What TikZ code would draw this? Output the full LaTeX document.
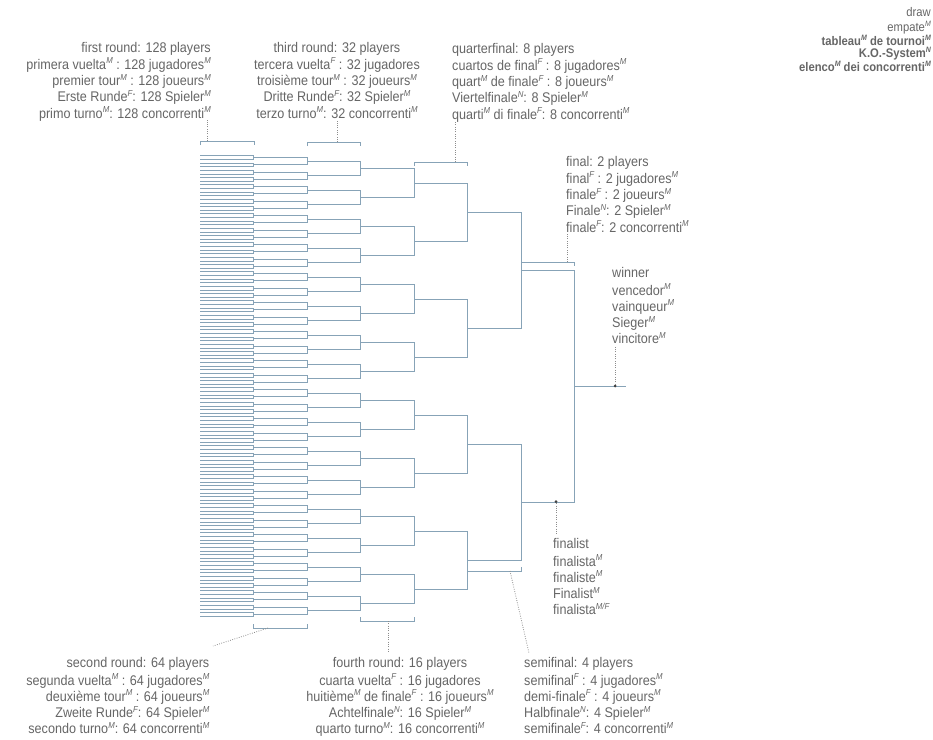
\documentclass[tikz,border=0pt]{standalone}
\usepackage{fontspec}
\usepackage{graphicx}
\setmainfont[FakeStretch=0.9]{Liberation Sans}
\definecolor{bline}{RGB}{135,163,183}
\definecolor{txt}{RGB}{102,102,102}
\definecolor{lead}{RGB}{140,140,140}
\newcommand\gn[1]{\raisebox{0.4em}{\scalebox{0.62}{\itshape #1}}}
\tikzset{
  bl/.style={draw=bline, line width=0.85pt},
  tag/.style={draw=bline, line width=0.7pt},
  leader/.style={draw=lead, line width=0.8pt, dash pattern=on 0.8pt off 1.5pt},
  lbl/.style={inner sep=0pt, text=txt, font=\fontsize{14}{16.2}\selectfont},
  smalllbl/.style={inner sep=0pt, text=txt, font=\fontsize{12.5}{12.6}\selectfont},
  dotc/.style={circle, fill=black!75, inner sep=0pt, minimum size=3pt}
}
\begin{document}
\begin{tikzpicture}[x=1pt,y=-1pt]
\useasboundingbox (0,0) rectangle (933,739);
\fill[white] (0,0) rectangle (933,739);
\def\yz{155.8}
\def\dd{3.625}
% bracket tree
\foreach \k in {1,...,7} {
  \pgfmathtruncatemacro\n{2^(8-\k)}
  \pgfmathtruncatemacro\g{2^(\k-1)}
  \pgfmathsetmacro\xa{200+53.5*(\k-1)}
  \pgfmathsetmacro\xb{\xa+53.5}
  \pgfmathtruncatemacro\m{\n/2-1}
  \foreach \j in {0,...,\m} {
    \pgfmathsetmacro\ya{\yz+(\g*(2*\j)+(\g-1)/2)*\dd}
    \pgfmathsetmacro\yb{\yz+(\g*(2*\j+1)+(\g-1)/2)*\dd}
    \draw[bl] (\xa,\ya) -- (\xb,\ya) -- (\xb,\yb) -- (\xa,\yb);
  }
}
\draw[bl] (574.5,386) -- (626,386);

% labels
\node[lbl, anchor=north east, align=right] (r1) at (211,40.6) {\strut first round: 128 players\\
primera vuelta\gn{M} : 128 jugadores\gn{M}\\
premier tour\gn{M} : 128 joueurs\gn{M}\\
Erste Runde\gn{F}: 128 Spieler\gn{M}\\
primo turno\gn{M}: 128 concorrenti\gn{M}};

\node[lbl, anchor=north, align=center] (r3) at (337,40.6) {\strut third round: 32 players\\
tercera vuelta\gn{F} : 32 jugadores\\
troisième tour\gn{M} : 32 joueurs\gn{M}\\
Dritte Runde\gn{F}: 32 Spieler\gn{M}\\
terzo turno\gn{M}: 32 concorrenti\gn{M}};

\node[lbl, anchor=north west, align=left] (qf) at (452,41.6) {\strut quarterfinal: 8 players\\
cuartos de final\gn{F} : 8 jugadores\gn{M}\\
quart\gn{M} de finale\gn{F} : 8 joueurs\gn{M}\\
Viertelfinale\gn{N}: 8 Spieler\gn{M}\\
quarti\gn{M} di finale\gn{F}: 8 concorrenti\gn{M}};

\node[smalllbl, anchor=north east, align=right] (dr) at (931,7) {\strut draw\\
empate\gn{M}\\
\textbf{tableau\gn{M} de tournoi\gn{M}}\\
\textbf{K.O.-System\gn{N}}\\
\textbf{elenco\gn{M} dei concorrenti\gn{M}}};

\node[lbl, anchor=north west, align=left] (fi) at (566,154.6) {\strut final: 2 players\\
final\gn{F} : 2 jugadores\gn{M}\\
finale\gn{F} : 2 joueurs\gn{M}\\
Finale\gn{N}: 2 Spieler\gn{M}\\
finale\gn{F}: 2 concorrenti\gn{M}};

\node[lbl, anchor=north west, align=left] (wi) at (612,266.3) {\strut winner\\
vencedor\gn{M}\\
vainqueur\gn{M}\\
Sieger\gn{M}\\
vincitore\gn{M}};

\node[lbl, anchor=north west, align=left] (fl) at (553,537.3) {\strut finalist\\
finalista\gn{M}\\
finaliste\gn{M}\\
Finalist\gn{M}\\
finalista\gn{M/F}};

\node[lbl, anchor=north east, align=right] (r2) at (209.5,656.3) {\strut second round: 64 players\\
segunda vuelta\gn{M} : 64 jugadores\gn{M}\\
deuxième tour\gn{M} : 64 joueurs\gn{M}\\
Zweite Runde\gn{F}: 64 Spieler\gn{M}\\
secondo turno\gn{M}: 64 concorrenti\gn{M}};

\node[lbl, anchor=north, align=center] (r4) at (400,656.3) {\strut fourth round: 16 players\\
cuarta vuelta\gn{F} : 16 jugadores\\
huitième\gn{M} de finale\gn{F} : 16 joueurs\gn{M}\\
Achtelfinale\gn{N}: 16 Spieler\gn{M}\\
quarto turno\gn{M}: 16 concorrenti\gn{M}};

\node[lbl, anchor=north west, align=left] (sf) at (524,656.3) {\strut semifinal: 4 players\\
semifinal\gn{F} : 4 jugadores\gn{M}\\
demi-finale\gn{F} : 4 joueurs\gn{M}\\
Halbfinale\gn{N}: 4 Spieler\gn{M}\\
semifinale\gn{F}: 4 concorrenti\gn{M}};

% marker brackets
\draw[tag] (200.5,145) -- (200.5,141) -- (254,141) -- (254,145);
\draw[tag] (307,146) -- (307,142) -- (360.5,142) -- (360.5,146);
\draw[tag] (414,166) -- (414,162) -- (467.5,162) -- (467.5,166);
\draw[tag] (521,266) -- (521,262) -- (574.5,262) -- (574.5,266);
\draw[tag] (253.5,624) -- (253.5,628) -- (307,628) -- (307,624);
\draw[tag] (360.5,617) -- (360.5,621) -- (414,621) -- (414,617);
\draw[tag] (467.5,567) -- (467.5,571) -- (521,571) -- (521,567);

% leader coordinates
\coordinate (a1) at (207,141);   \coordinate (b1) at (207,120);
\coordinate (a3) at (337,142);   \coordinate (b3) at (337,120);
\coordinate (aq) at (455,162);   \coordinate (bq) at (455,122);
\coordinate (af) at (567,262);   \coordinate (bf) at (567,234);
\node[dotc] (dw) at (615,386) {};\coordinate (bw) at (615,347);
\node[dotc] (dl) at (556,501.5) {};\coordinate (bl2) at (556,535);
\coordinate (a2) at (268,628);   \coordinate (b2) at (213,646);
\coordinate (a4) at (388,621);   \coordinate (b4) at (388,652);
\coordinate (as) at (510,571);   \coordinate (bs) at (529,653);

\draw[leader] (a1) -- (b1);
\draw[leader] (a3) -- (b3);
\draw[leader] (aq) -- (bq);
\draw[leader] (af) -- (bf);
\draw[leader] (dw) -- (bw);
\draw[leader] (dl) -- (bl2);
\draw[leader] (a2) -- (b2);
\draw[leader] (a4) -- (b4);
\draw[leader] (as) -- (bs);
\end{tikzpicture}
\end{document}
